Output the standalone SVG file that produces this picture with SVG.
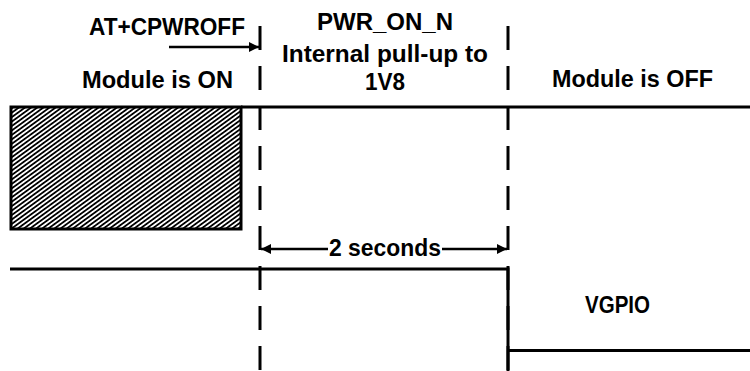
<svg xmlns="http://www.w3.org/2000/svg" width="750" height="371" viewBox="0 0 750 371">
<defs>
<pattern id="hatch" patternUnits="userSpaceOnUse" width="3.6" height="3.6" patternTransform="rotate(54)">
<rect x="0" y="0" width="3.6" height="3.6" fill="#fff"/>
<rect x="0" y="0" width="1.9" height="3.6" fill="#000" shape-rendering="crispEdges"/>
</pattern>
<marker id="ah" viewBox="0 0 10 10" refX="10" refY="5" markerWidth="10" markerHeight="10" markerUnits="userSpaceOnUse" orient="auto-start-reverse">
<path d="M0,0 L10,5 L0,10 Z" fill="#000"/>
</marker>
<style>
text{font-family:"Liberation Sans",Arial,sans-serif;font-weight:bold;font-size:23.5px;fill:#000}
.sig{stroke:#000;stroke-width:3;fill:none}
.dash{stroke:#000;stroke-width:3;stroke-dasharray:24 16;fill:none}
.arr{stroke:#000;stroke-width:2.5;fill:none}
</style>
</defs>
<g id="connectors">
<line class="dash" x1="260" y1="26" x2="260" y2="371"/>
<line class="dash" x1="508" y1="26" x2="508" y2="371"/>
<line class="sig" x1="241" y1="107" x2="750" y2="107"/>
<polyline class="sig" points="10,269 508,269 508,371"/>
<line class="sig" x1="508" y1="350.5" x2="750" y2="350.5"/>
<line class="arr" x1="169" y1="47" x2="259" y2="47" marker-end="url(#ah)"/>
<line class="arr" x1="261" y1="249" x2="328" y2="249" marker-start="url(#ah)"/>
<line class="arr" x1="442" y1="249" x2="507" y2="249" marker-end="url(#ah)"/>
</g>
<g id="hatched-box">
<rect x="11" y="107" width="230" height="122" fill="url(#hatch)" stroke="#000" stroke-width="3"/>
</g>
<g id="label-atcpwroff"><text x="89" y="35" textLength="156" lengthAdjust="spacingAndGlyphs">AT+CPWROFF</text></g>
<g id="label-module-on"><text x="82" y="88" textLength="151" lengthAdjust="spacingAndGlyphs">Module is ON</text></g>
<g id="label-pwr">
<text x="317" y="30" textLength="136" lengthAdjust="spacingAndGlyphs">PWR_ON_N</text>
<text x="282" y="62" textLength="206" lengthAdjust="spacingAndGlyphs">Internal pull-up to</text>
<text x="365" y="90" textLength="40" lengthAdjust="spacingAndGlyphs">1V8</text>
</g>
<g id="label-module-off"><text x="552" y="87" textLength="161" lengthAdjust="spacingAndGlyphs">Module is OFF</text></g>
<g id="label-2s"><text x="329" y="256" textLength="112" lengthAdjust="spacingAndGlyphs">2 seconds</text></g>
<g id="label-vgpio"><text x="585" y="313" textLength="65" lengthAdjust="spacingAndGlyphs">VGPIO</text></g>
</svg>
